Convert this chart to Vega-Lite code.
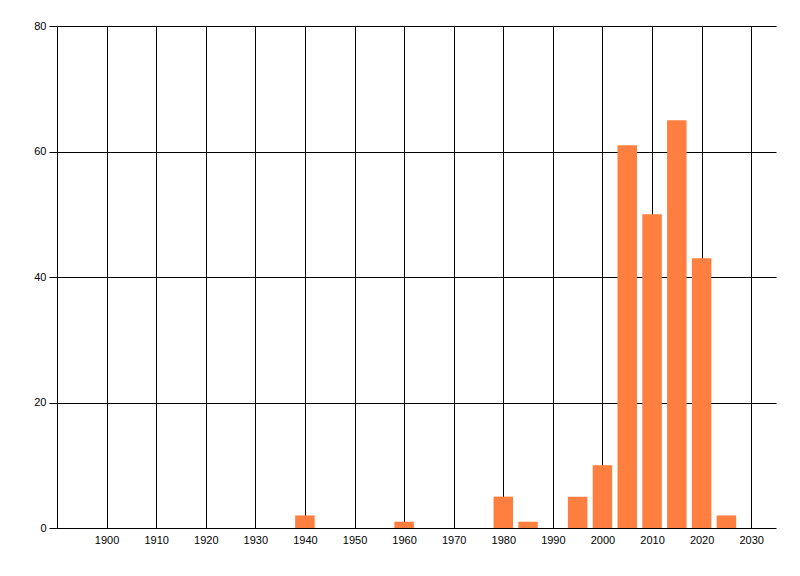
{
  "$schema": "https://vega.github.io/schema/vega-lite/v6.json",
  "width": 719,
  "height": 502,
  "autosize": {"type": "none"},
  "padding": {"left": 57, "top": 26, "right": 24, "bottom": 48},
  "background": "#ffffff",
  "view": {"stroke": null},
  "data": {
    "values": [
      {"year": 1940, "count": 2},
      {"year": 1960, "count": 1},
      {"year": 1980, "count": 5},
      {"year": 1985, "count": 1},
      {"year": 1995, "count": 5},
      {"year": 2000, "count": 10},
      {"year": 2005, "count": 61},
      {"year": 2010, "count": 50},
      {"year": 2015, "count": 65},
      {"year": 2020, "count": 43},
      {"year": 2025, "count": 2}
    ]
  },
  "mark": {"type": "bar", "color": "#ff7f40", "size": 19.5},
  "encoding": {
    "x": {
      "field": "year",
      "type": "quantitative",
      "scale": {"domain": [1890, 2035], "nice": false, "zero": false, "padding": 0},
      "axis": {
        "title": null,
        "values": [1890, 1900, 1910, 1920, 1930, 1940, 1950, 1960, 1970, 1980, 1990, 2000, 2010, 2020, 2030],
        "format": "d",
        "labelExpr": "datum.value == 1890 ? '' : datum.label",
        "grid": true,
        "gridColor": "#000000",
        "gridOpacity": 1,
        "gridWidth": 1,
        "ticks": false,
        "domain": false,
        "labelPadding": 6,
        "labelFont": "Liberation Sans",
        "labelFontSize": 11,
        "labelColor": "#000000"
      }
    },
    "y": {
      "field": "count",
      "type": "quantitative",
      "scale": {"domain": [0, 80], "nice": false},
      "axis": {
        "title": null,
        "values": [0, 20, 40, 60, 80],
        "grid": true,
        "gridColor": "#000000",
        "gridOpacity": 1,
        "gridWidth": 1,
        "ticks": true,
        "tickColor": "#000000",
        "tickSize": 8,
        "domain": false,
        "labelPadding": 3,
        "labelFont": "Liberation Sans",
        "labelFontSize": 11,
        "labelColor": "#000000"
      }
    }
  }
}
